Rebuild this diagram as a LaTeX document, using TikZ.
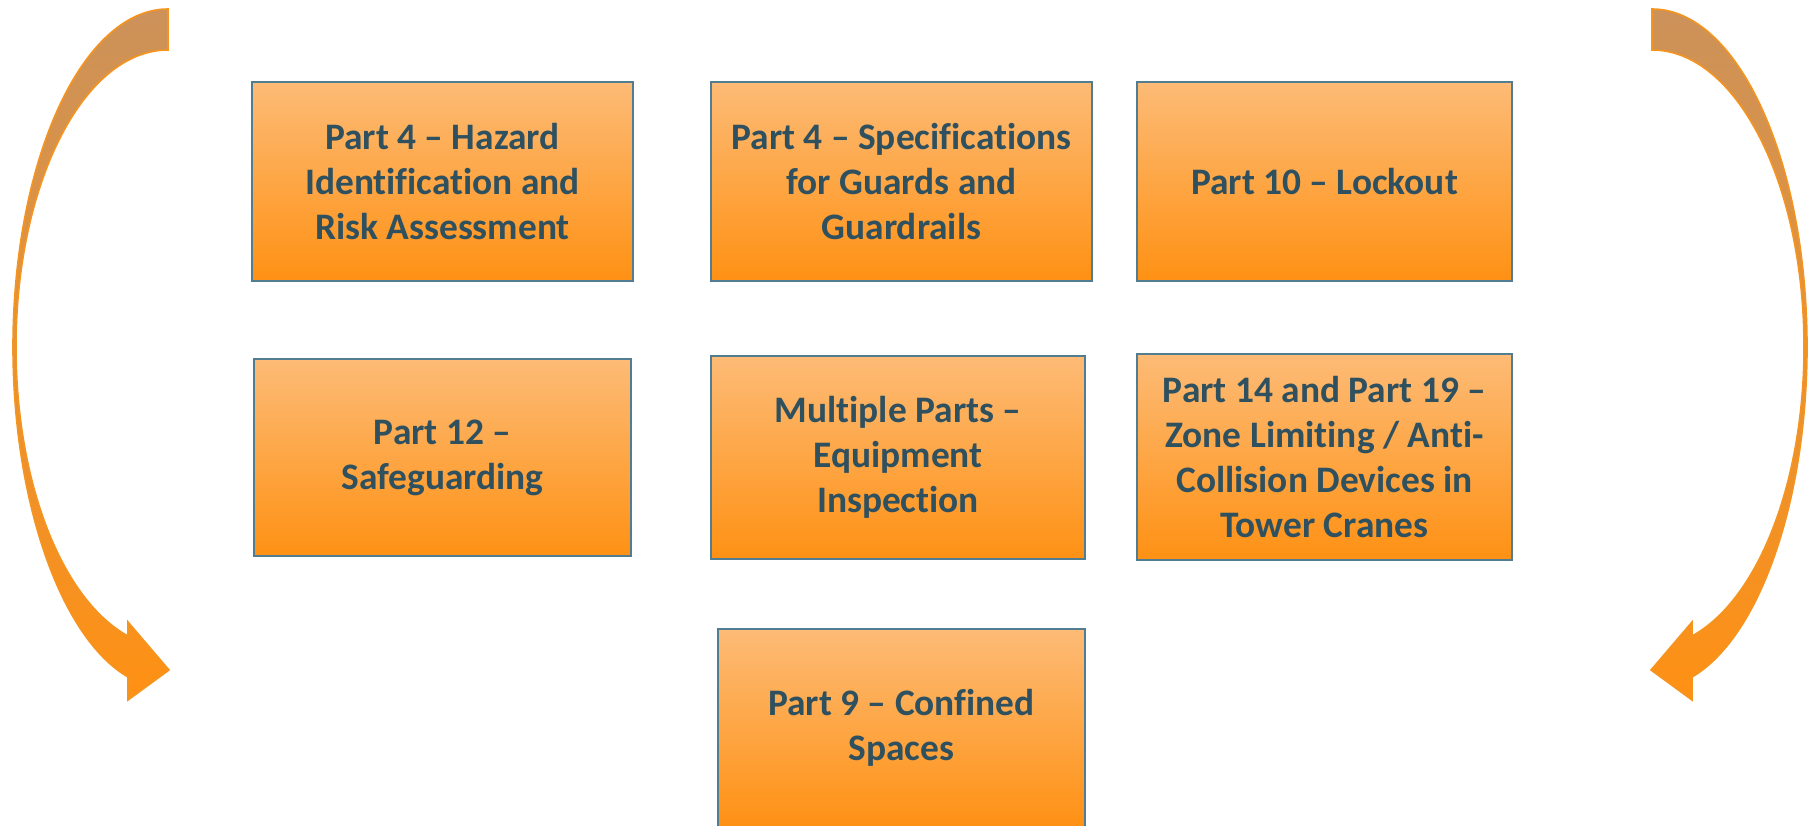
\documentclass[tikz,border=0pt]{standalone}
\usepackage{fontspec}
\setmainfont{Carlito}[Ligatures=NoCommon]
\definecolor{boxtop}{RGB}{253,187,118}
\definecolor{boxbot}{RGB}{254,145,20}
\definecolor{boxline}{RGB}{80,125,145}
\definecolor{txt}{RGB}{47,80,95}
\definecolor{arrtop}{RGB}{204,146,90}
\definecolor{arrbot}{RGB}{255,145,20}
\definecolor{arrline}{RGB}{245,148,30}
\begin{document}
\begin{tikzpicture}[x=0.5pt,y=-0.5pt,
  box/.style={draw=boxline, line width=1pt, top color=boxtop, bottom color=boxbot,
    align=center, inner sep=0pt, text=txt,
    font=\fontsize{18.7}{22.5}\selectfont\bfseries},
  bigarrow/.style={draw=arrline, line width=0.8pt, top color=arrtop, bottom color=arrbot}]
\clip (0,0) rectangle (1814,825);
\useasboundingbox (0,0) rectangle (1814,825);

\node[box, minimum width=190.5pt, minimum height=99.5pt] (p4h) at (442.5,181.5)
  {Part 4 – Hazard\\Identification and\\Risk Assessment};
\node[box, minimum width=190.5pt, minimum height=99.5pt] (p4s) at (901.5,181.5)
  {Part 4 – Specifications\\for Guards and\\Guardrails};
\node[box, minimum width=187.5pt, minimum height=99.5pt] (p10) at (1324.5,181.5)
  {Part 10 – Lockout};
\node[box, minimum width=188.5pt, minimum height=98.5pt] (p12) at (442.5,457.5)
  {Part 12 –\\Safeguarding};
\node[box, minimum width=187pt, minimum height=101.5pt] (mp) at (898,457.5)
  {Multiple Parts –\\Equipment\\Inspection};
\node[box, minimum width=187.5pt, minimum height=103pt] (p14) at (1324.5,457)
  {Part 14 and Part 19 –\\Zone Limiting / Anti-\\Collision Devices in\\Tower Cranes};
\node[box, minimum width=183.5pt, minimum height=99pt] (p9) at (901.5,728)
  {Part 9 – Confined\\Spaces};

% left curved arrow
\path[bigarrow] (168,9) .. controls (82.4,9) and (13,160.3) .. (13,347)
  .. controls (13,500) and (60.2,637.4) .. (128,677) -- (128,700) -- (169,670)
  -- (128,622) -- (128,636)
  .. controls (61.6,599.5) and (16,481.9) .. (16,347)
  .. controls (16,183) and (84,50) .. (168,50) -- cycle;

% right curved arrow (mirror)
\begin{scope}[xshift=910pt, xscale=-1]
\path[bigarrow] (168,9) .. controls (82.4,9) and (13,160.3) .. (13,347)
  .. controls (13,500) and (60.2,637.4) .. (128,677) -- (128,700) -- (169,670)
  -- (128,622) -- (128,636)
  .. controls (61.6,599.5) and (16,481.9) .. (16,347)
  .. controls (16,183) and (84,50) .. (168,50) -- cycle;
\end{scope}
\end{tikzpicture}
\end{document}
